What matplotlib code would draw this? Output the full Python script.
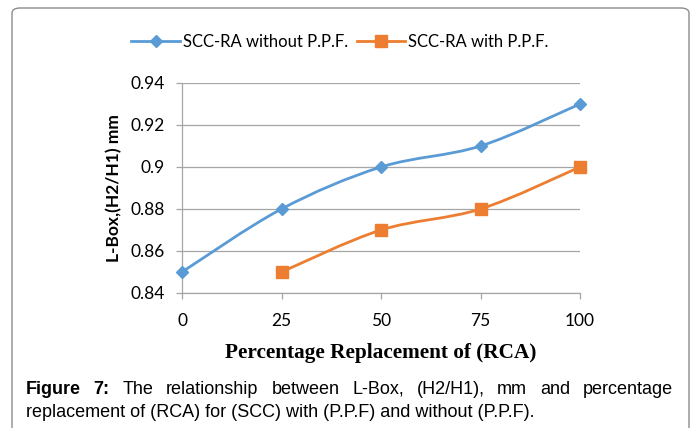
import numpy as np
import matplotlib
matplotlib.use("Agg")
import matplotlib.pyplot as plt
from matplotlib.path import Path
from matplotlib.patches import PathPatch, FancyBboxPatch
from matplotlib.lines import Line2D

# data
replacement = [0, 25, 50, 75, 100]
lbox_without = [0.85, 0.88, 0.90, 0.91, 0.93]
replacement_with = [25, 50, 75, 100]
lbox_with = [0.85, 0.87, 0.88, 0.90]
yticks = [0.84, 0.86, 0.88, 0.90, 0.92, 0.94]
ytick_labels = ["0.84", "0.86", "0.88", "0.9", "0.92", "0.94"]

blue = "#5B9BD5"
orange = "#ED7D31"
grid_col = "#A6A6A6"
W, H = 697, 428


def smooth_path(xs, ys):
    """Excel-like smoothed line as a bezier path through the points."""
    pts = np.column_stack([xs, ys]).astype(float)
    verts = [pts[0]]
    codes = [Path.MOVETO]
    n = len(pts)
    for i in range(n - 1):
        p0 = pts[max(i - 1, 0)]
        p1 = pts[i]
        p2 = pts[i + 1]
        p3 = pts[min(i + 2, n - 1)]
        c1 = p1 + (p2 - p0) / 6.0
        c2 = p2 - (p3 - p1) / 6.0
        verts += [c1, c2, p2]
        codes += [Path.CURVE4] * 3
    return Path(verts, codes)


fig = plt.figure(figsize=(W / 100, H / 100), dpi=100)

# rounded chart frame
frame = FancyBboxPatch((12 / W, -0.1), 677 / W, (420 / H) + 0.1,
                       boxstyle="round,pad=0,rounding_size=0.012",
                       transform=fig.transFigure, facecolor="none",
                       edgecolor="#8C8C8C", linewidth=1.0, zorder=-1)
fig.patches.append(frame)

ax = fig.add_axes([182 / W, 1 - 293 / H, 398 / W, 210 / H])
ax.set_facecolor("none")

for xs, ys, col in [(replacement, lbox_without, blue), (replacement_with, lbox_with, orange)]:
    ax.add_patch(PathPatch(smooth_path(xs, ys), facecolor="none", edgecolor=col,
                           linewidth=2.0, capstyle="round", zorder=3))

ax.plot(replacement, lbox_without, linestyle="none", marker="D", markersize=6.5,
        color=blue, zorder=4, clip_on=False)
ax.plot(replacement_with, lbox_with, linestyle="none", marker="s", markersize=9,
        color=orange, zorder=4, clip_on=False)

ax.set_xlim(0, 100)
ax.set_ylim(0.84, 0.94)
ax.set_xticks(replacement)
ax.set_xticklabels([str(v) for v in replacement])
ax.set_yticks(yticks)
ax.set_yticklabels(ytick_labels)
ax.yaxis.grid(True, color=grid_col, linewidth=0.9)
ax.set_axisbelow(True)
for side in ["top", "right"]:
    ax.spines[side].set_visible(False)
for side in ["left", "bottom"]:
    ax.spines[side].set_color(grid_col)
    ax.spines[side].set_linewidth(0.9)
ax.tick_params(axis="both", colors=grid_col, length=4.5, width=0.9, labelcolor="black",
               labelsize=12.5)
ax.tick_params(axis="y", pad=8)
ax.tick_params(axis="x", pad=10)
for lab in ax.get_xticklabels() + ax.get_yticklabels():
    lab.set_fontfamily("Lato")

ax.set_ylabel("L-Box,(H2/H1) mm", fontfamily="Lato", fontweight="bold", fontsize=12.5,
              labelpad=6)
ax.set_xlabel("Percentage Replacement of (RCA)", fontfamily="Liberation Serif",
              fontweight="bold", fontsize=15.3, labelpad=10)

handles = [Line2D([], [], color=blue, linewidth=2.0, marker="D", markersize=6),
           Line2D([], [], color=orange, linewidth=2.0, marker="s", markersize=8)]
fig.legend(handles, ["SCC-RA without P.P.F.", "SCC-RA with P.P.F."],
           loc="center", bbox_to_anchor=(340 / W, 1 - 42 / H), ncol=2, frameon=False,
           handlelength=2.9, handletextpad=0.2, columnspacing=0.5,
           prop={"family": "Lato", "size": 12})

# caption, justified first line
cap_font = "Liberation Sans"
cap_size = 13.0
line1 = [("Figure", "bold"), ("7:", "bold"), ("The", "normal"), ("relationship", "normal"),
         ("between", "normal"), ("L-Box,", "normal"), ("(H2/H1),", "normal"), ("mm", "normal"),
         ("and", "normal"), ("percentage", "normal")]
left_px, right_px = 26, 673
texts = [fig.text(0, 1 - 394 / H, w, fontweight=wt, fontfamily=cap_font, fontsize=cap_size,
                  va="baseline", ha="left") for w, wt in line1]
renderer = fig.canvas.get_renderer()
widths = [t.get_window_extent(renderer).width for t in texts]
gap = (right_px - left_px - sum(widths)) / (len(texts) - 1)
x = left_px
for t, w in zip(texts, widths):
    t.set_x(x / W)
    x += w + gap
fig.text(left_px / W, 1 - 417 / H,
         "replacement of (RCA) for (SCC) with (P.P.F) and without (P.P.F).",
         fontfamily=cap_font, fontsize=cap_size, va="baseline", ha="left")

fig.savefig("out.png", dpi=100)
